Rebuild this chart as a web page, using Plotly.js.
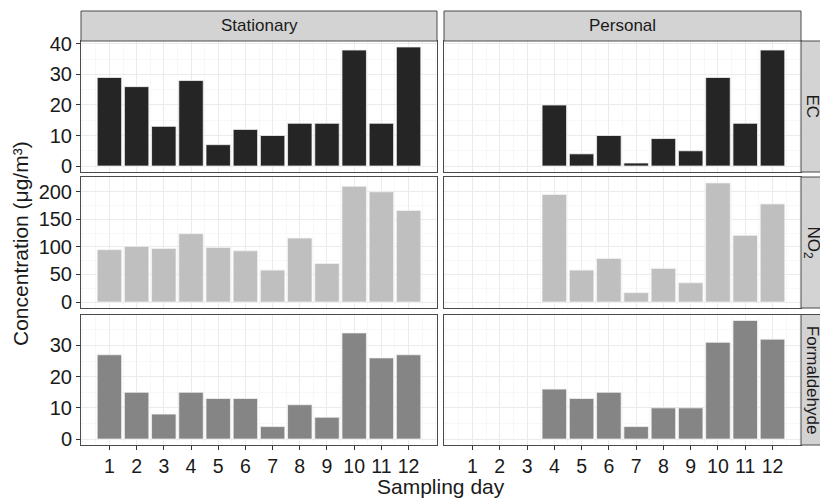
<!DOCTYPE html>
<html>
<head>
<meta charset="utf-8">
<script src="https://cdn.plot.ly/plotly-3.0.1.min.js"></script>
<style>html,body{margin:0;padding:0;background:#fff;}#chart{width:820px;height:498px;}</style>
</head>
<body>
<div id="chart"></div>
<script>
// ---- data ----
var days = [1,2,3,4,5,6,7,8,9,10,11,12];
var tickLabels = ['1','2','3','4','5','6','7','8','9','10','11','12'];
var columns = ['Stationary', 'Personal'];
var rows = ['EC', 'NO<sub>2</sub>', 'Formaldehyde'];
var ecStationary   = [29,26,13,28,7,12,10,14,14,38,14,39];
var ecPersonal     = [null,null,null,20,4,10,1,9,5,29,14,38];
var no2Stationary  = [95,101,97,124,99,93,58,116,70,210,200,166];
var no2Personal    = [null,null,null,195,58,79,17,61,35,216,121,178];
var formStationary = [27,15,8,15,13,13,4,11,7,34,26,27];
var formPersonal   = [null,null,null,16,13,15,4,10,10,31,38,32];
var yTitle = 'Concentration (μg/m³)';
var xTitle = 'Sampling day';

// ---- layout helpers ----
var W = 820, H = 498;
function px(x){ return x / W; }
function py(y){ return 1 - y / H; }
var colX = [[81, 437], [444, 801]];
var rowY = [[41, 172], [177, 308], [314.5, 445]];
var rowColors = ['#252525', '#bfbfbf', '#858585'];
var rowMinor = [5, 25, 5];
var rowDtick = [10, 50, 10];
var series = [[ecStationary, ecPersonal], [no2Stationary, no2Personal], [formStationary, formPersonal]];

function paddedRange(arrs){
  var m = 0;
  arrs.forEach(function(a){ a.forEach(function(v){ if (v != null && v > m) m = v; }); });
  return [-0.05 * m, 1.05 * m];
}

var FONT = 'Liberation Sans, Arial, Helvetica, sans-serif';
var traces = [];
var layout = {
  width: W, height: H,
  margin: {l: 0, r: 0, t: 0, b: 0},
  paper_bgcolor: '#ffffff', plot_bgcolor: '#ffffff',
  showlegend: false,
  bargap: 0.1,
  font: {family: FONT, color: '#1a1a1a'},
  shapes: [], annotations: []
};

var idx = 0;
for (var r = 0; r < 3; r++) {
  var yr = paddedRange(series[r]);
  for (var c = 0; c < 2; c++) {
    idx++;
    var xa = 'xaxis' + (idx === 1 ? '' : idx);
    var ya = 'yaxis' + (idx === 1 ? '' : idx);
    var xid = 'x' + (idx === 1 ? '' : idx);
    var yid = 'y' + (idx === 1 ? '' : idx);
    traces.push({
      type: 'bar', x: days, y: series[r][c], xaxis: xid, yaxis: yid,
      width: 0.9,
      marker: {color: rowColors[r], line: {color: '#f2f2f2', width: 0.8}},
      hoverinfo: 'x+y'
    });
    var bottom = (r === 2);
    layout[xa] = {
      domain: [px(colX[c][0]), px(colX[c][1])],
      anchor: yid,
      range: [-0.045, 13.045],
      tickmode: 'array', tickvals: days, ticktext: tickLabels,
      showticklabels: bottom,
      ticks: bottom ? 'outside' : '', ticklen: 4, tickcolor: '#333333', tickwidth: 1,
      tickfont: {family: FONT, size: 19.5, color: '#1a1a1a'},
      showgrid: true, gridcolor: '#ebebeb', gridwidth: 1,
      minor: {dtick: 0.5, tick0: 0, showgrid: true, gridcolor: '#f3f3f3', gridwidth: 0.6, ticks: ''},
      zeroline: false,
      showline: true, mirror: true, linecolor: '#4a4a4a', linewidth: 1,
      fixedrange: true
    };
    layout[ya] = {
      domain: [py(rowY[r][1]), py(rowY[r][0])],
      anchor: xid,
      range: yr,
      dtick: rowDtick[r], tick0: 0,
      showticklabels: c === 0,
      ticks: c === 0 ? 'outside' : '', ticklen: 4, tickcolor: '#333333', tickwidth: 1,
      tickfont: {family: FONT, size: 20, color: '#1a1a1a'},
      showgrid: true, gridcolor: '#ebebeb', gridwidth: 1,
      minor: {dtick: rowMinor[r], tick0: 0, showgrid: true, gridcolor: '#f3f3f3', gridwidth: 0.6, ticks: ''},
      zeroline: false,
      showline: true, mirror: true, linecolor: '#4a4a4a', linewidth: 1,
      fixedrange: true
    };
  }
}

// column strips
for (var c = 0; c < 2; c++) {
  layout.shapes.push({type: 'rect', xref: 'paper', yref: 'paper',
    x0: px(colX[c][0]), x1: px(colX[c][1]), y0: py(41), y1: py(11),
    fillcolor: '#d3d3d3', line: {color: '#4a4a4a', width: 1}, layer: 'above'});
  layout.annotations.push({xref: 'paper', yref: 'paper',
    x: px((colX[c][0] + colX[c][1]) / 2), y: py(26), xanchor: 'center', yanchor: 'middle',
    text: columns[c], showarrow: false, font: {family: FONT, size: 17, color: '#1a1a1a'}});
}
// row strips
for (var r = 0; r < 3; r++) {
  layout.shapes.push({type: 'rect', xref: 'paper', yref: 'paper',
    x0: px(801), x1: px(840), y0: py(rowY[r][1]), y1: py(rowY[r][0]),
    fillcolor: '#d3d3d3', line: {color: '#4a4a4a', width: 1}, layer: 'above'});
  layout.annotations.push({xref: 'paper', yref: 'paper',
    x: px(812), y: py((rowY[r][0] + rowY[r][1]) / 2), xanchor: 'center', yanchor: 'middle',
    text: rows[r], textangle: 90, showarrow: false, font: {family: FONT, size: 17, color: '#1a1a1a'}});
}
// axis titles
layout.annotations.push({xref: 'paper', yref: 'paper', x: px(20), y: py(244),
  xanchor: 'center', yanchor: 'middle', text: yTitle, textangle: -90, showarrow: false,
  font: {family: FONT, size: 21, color: '#1a1a1a'}});
layout.annotations.push({xref: 'paper', yref: 'paper', x: px(441), y: py(486),
  xanchor: 'center', yanchor: 'middle', text: xTitle, showarrow: false,
  font: {family: FONT, size: 21, color: '#1a1a1a'}});

Plotly.newPlot('chart', traces, layout, {displayModeBar: false, staticPlot: true});
</script>
</body>
</html>
